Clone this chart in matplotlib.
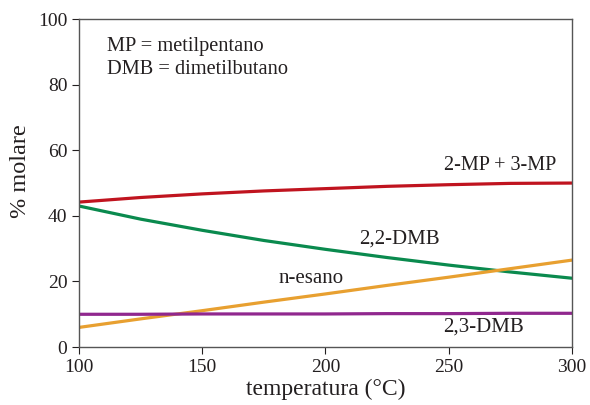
import matplotlib.pyplot as plt

plt.rcParams['font.family'] = ['Liberation Serif', 'DejaVu Serif']

temp = [100, 125, 150, 175, 200, 225, 250, 275, 300]
mp = [44.2, 45.6, 46.7, 47.6, 48.3, 49.0, 49.5, 49.9, 50.0]
dmb22 = [43.0, 39.0, 35.6, 32.5, 29.8, 27.3, 25.0, 22.9, 21.0]
esano = [6.0, 8.6, 11.1, 13.7, 16.2, 18.8, 21.3, 23.9, 26.5]
dmb23 = [10.0, 10.0, 10.1, 10.1, 10.1, 10.2, 10.2, 10.3, 10.3]

txt = '#231f20'

fig, ax = plt.subplots(figsize=(5.9, 4.05), dpi=100)
fig.subplots_adjust(left=0.134, right=0.969, top=0.953, bottom=0.143)

ax.plot(temp, mp, color='#c0141f', lw=2.3)
ax.plot(temp, dmb22, color='#0a8a4e', lw=2.3)
ax.plot(temp, esano, color='#e8a030', lw=2.3)
ax.plot(temp, dmb23, color='#90278e', lw=2.3)

ax.set_xlim(100, 300)
ax.set_ylim(0, 100)
ax.set_xticks([100, 150, 200, 250, 300])
ax.set_yticks([0, 20, 40, 60, 80, 100])
ax.tick_params(labelsize=14, colors=txt, direction='out', length=5)
for s in ax.spines.values():
    s.set_color('#555555')
    s.set_linewidth(1)

ax.set_xlabel('temperatura (°C)', fontsize=17, color=txt, labelpad=2)
ax.set_ylabel('% molare', fontsize=17.5, color=txt)
ax.yaxis.set_label_coords(-0.098, 0.537)

ax.text(271, 55.3, '2-MP + 3-MP', fontsize=14.5, color=txt, ha='center', va='center')
ax.text(230, 33, '2,2-DMB', fontsize=15, color=txt, ha='center', va='center')
ax.text(194, 21, 'n-esano', fontsize=15, color=txt, ha='center', va='center')
ax.text(264, 6.1, '2,3-DMB', fontsize=15, color=txt, ha='center', va='center')
ax.text(111.5, 91.5, 'MP = metilpentano', fontsize=14.7, color=txt, va='center')
ax.text(111.5, 84.5, 'DMB = dimetilbutano', fontsize=14.7, color=txt, va='center')

fig.savefig('out.png')
